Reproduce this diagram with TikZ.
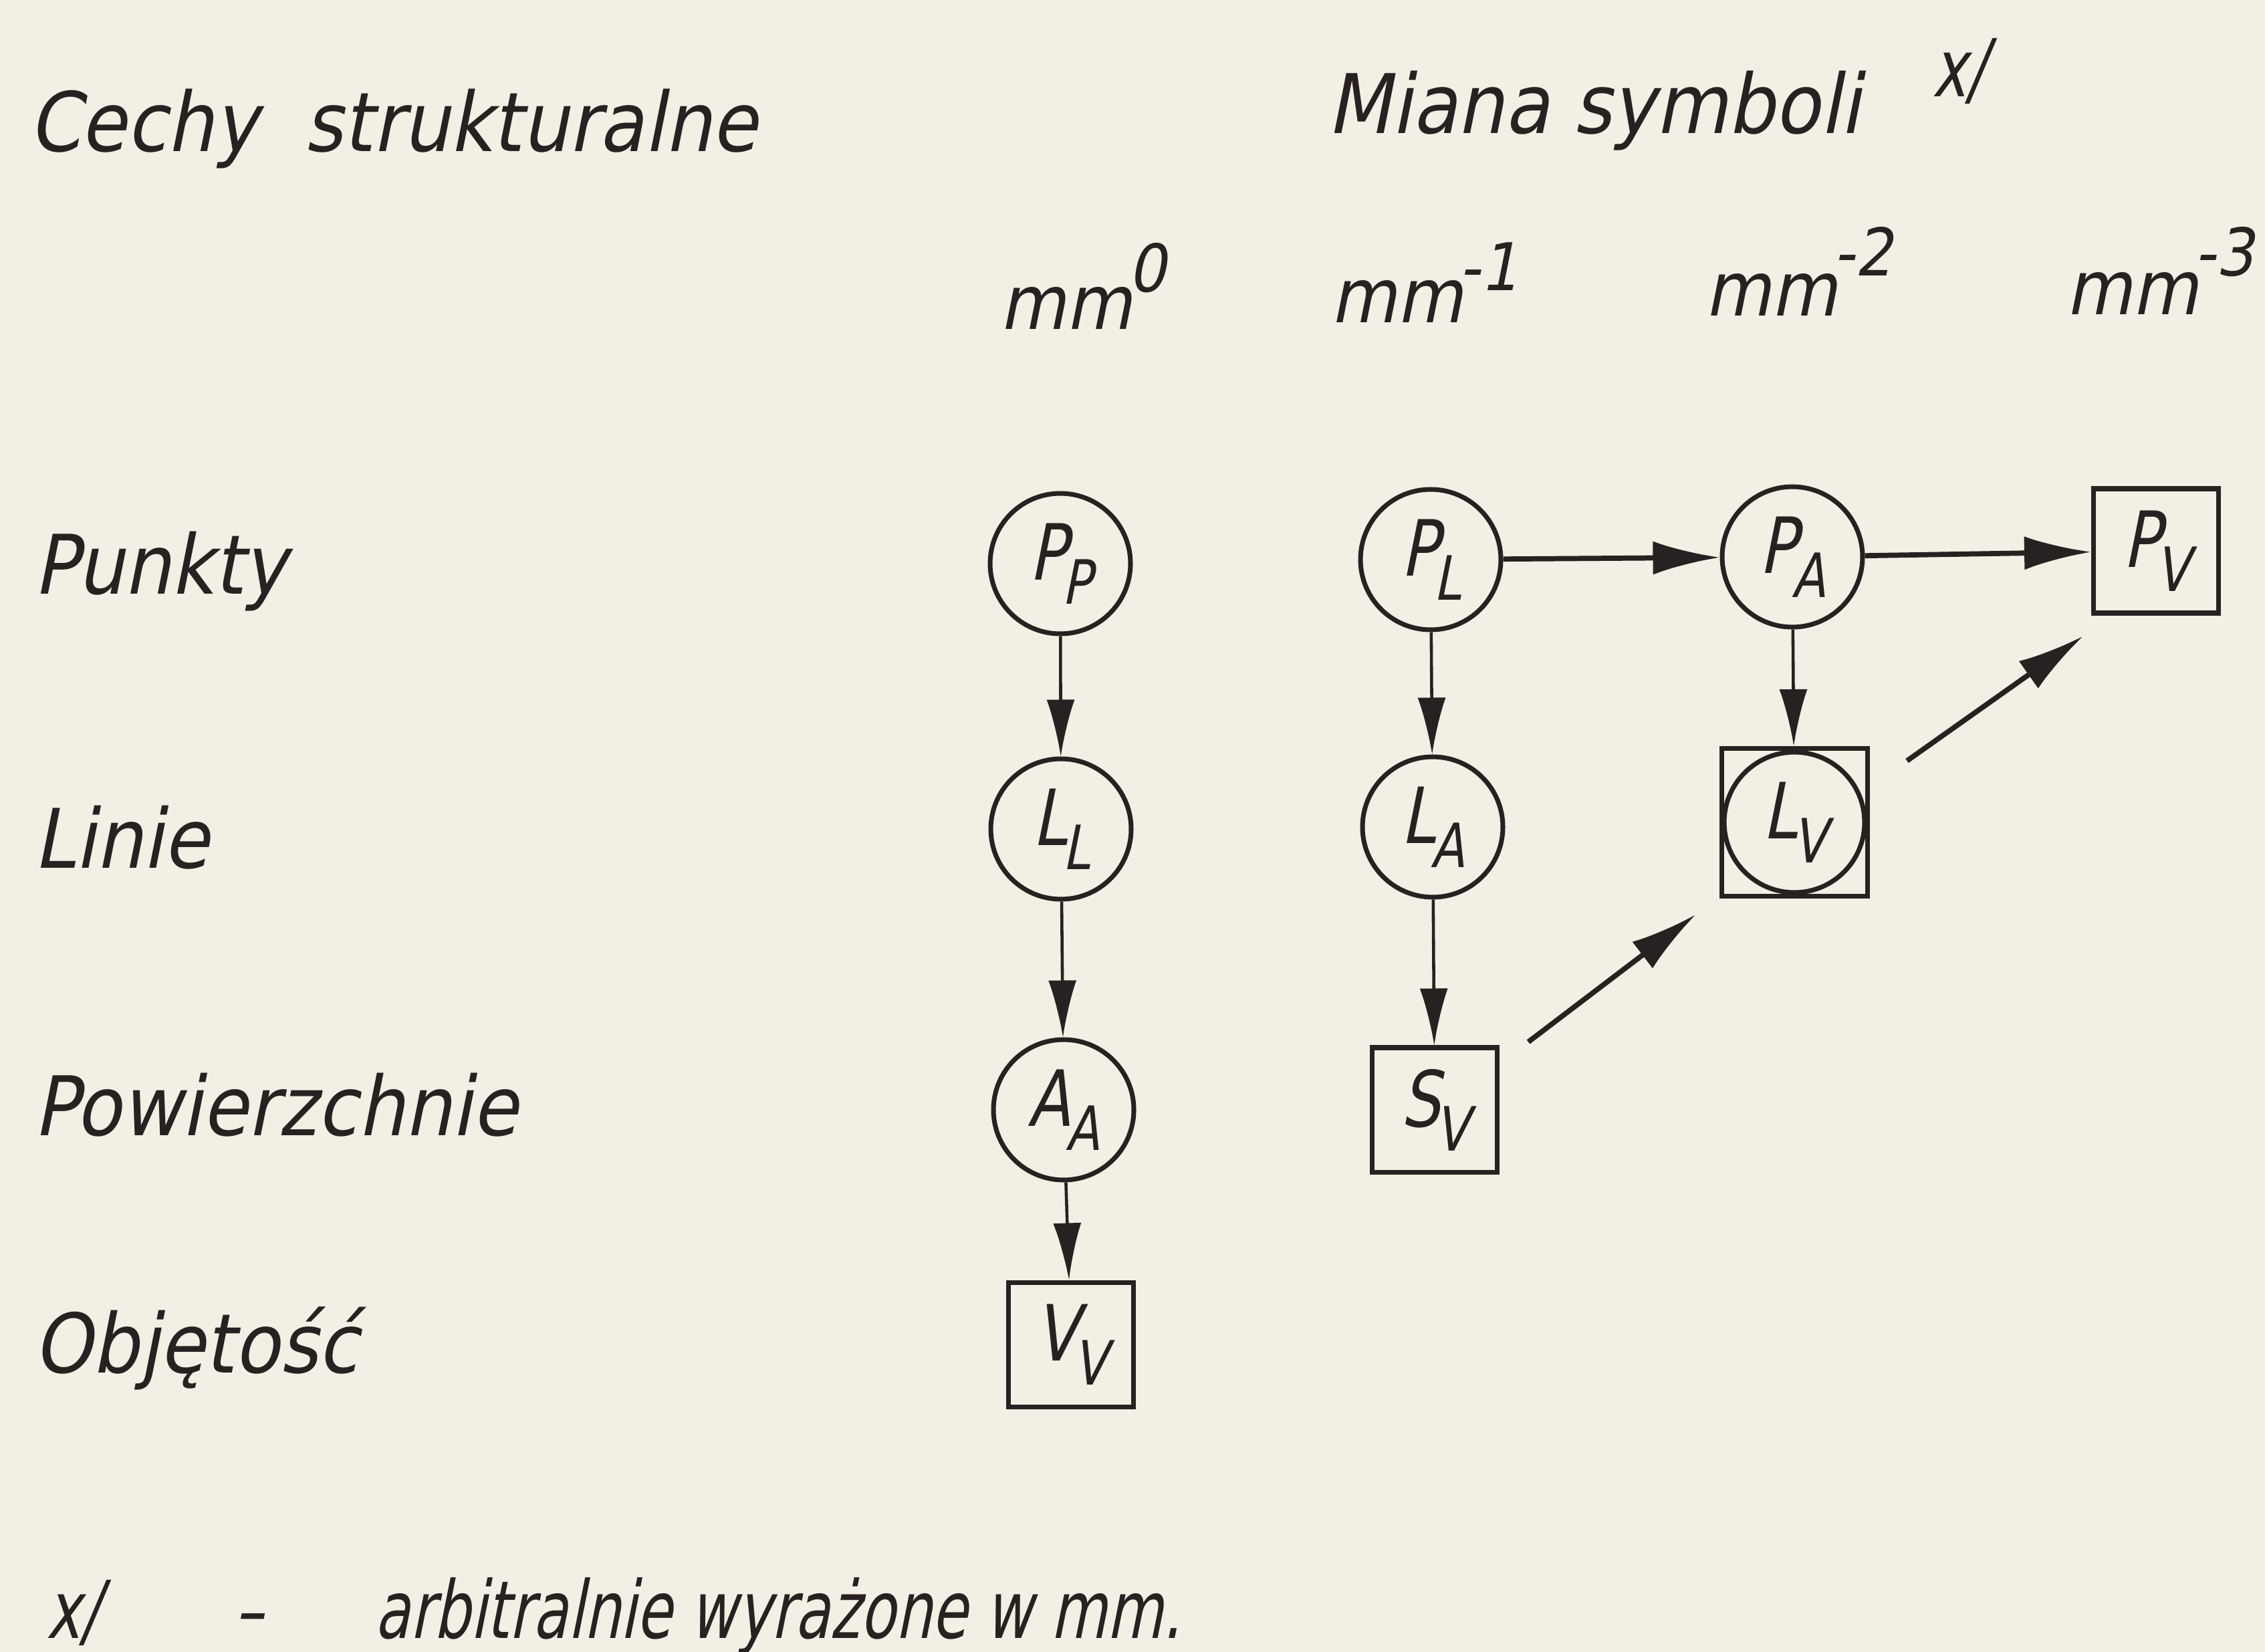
\documentclass[tikz,border=0pt]{standalone}
\usepackage{fontspec}
\usetikzlibrary{arrows.meta}
\newfontfamily\lett{DejaVu Sans}[FakeStretch=0.9,FakeSlant=0.2]
\newfontfamily\lettn{DejaVu Sans}[FakeStretch=0.72,FakeSlant=0.2]
\newfontfamily\symf{DejaVu Sans}[FakeStretch=0.8,FakeSlant=0.2]
\definecolor{paper}{RGB}{242,239,228}
\definecolor{ink}{RGB}{40,33,33}
% symbol with a lowered index
\newcommand{\sym}[2]{#1\kern-0.06em\raisebox{-0.36cm}{\fontsize{26}{26}\selectfont #2}}
\newcommand{\unitmm}[2]{mm\kern-0.05em\raisebox{#1}{\fontsize{28}{28}\selectfont #2}}

\begin{document}
\begin{tikzpicture}[x=1cm,y=-1cm,color=ink,
    lbl/.style={anchor=base west,inner sep=0pt,font=\lett\fontsize{35}{40}\selectfont},
    note/.style={anchor=base west,inner sep=0pt,font=\lettn\fontsize{34}{40}\selectfont},
    unit/.style={anchor=base west,inner sep=0pt,font=\lett\fontsize{32}{36}\selectfont},
    circ/.style={circle,draw,line width=2pt,minimum size=2.1cm,inner sep=0pt,font=\symf\fontsize{33}{33}\selectfont},
    sq/.style={rectangle,draw,line width=2pt,minimum width=1.87cm,minimum height=1.86cm,inner sep=0pt,font=\symf\fontsize{33}{33}\selectfont},
    sqbig/.style={rectangle,draw,line width=2pt,minimum width=2.18cm,minimum height=2.21cm,inner sep=0pt},
    arr/.style={-{Latex[length=0.85cm,width=0.42cm]},line width=1.3pt},
    harr/.style={-{Latex[length=1cm,width=0.5cm]},line width=2.2pt}]
  \fill[paper] (0,0) rectangle (33.88,24.71);
  \useasboundingbox (0,0) rectangle (33.88,24.71);

  % headings
  \node[lbl] (cechy) at (0.43,2.27) {Cechy\ \ strukturalne};
  \node[lbl] (miana) at (19.85,2.00) {Miana symboli};
  \node[note] (xs) at (28.90,1.45) {x/};
  \node[unit] (mm0) at (14.95,4.92) {\unitmm{0.55cm}{0}};
  \node[unit] (mm1) at (19.90,4.82) {\unitmm{0.48cm}{-1}};
  \node[unit] (mm2) at (25.50,4.73) {\unitmm{0.6cm}{-2}};
  \node[unit] (mm3) at (30.90,4.70) {\unitmm{0.58cm}{-3}};

  % rows
  \node[lbl] (punkty) at (0.50,8.88) {Punkty};
  \node[lbl] (linie) at (0.50,12.98) {Linie};
  \node[lbl] (pow) at (0.50,16.98) {Powierzchnie};
  \node[lbl] (obj) at (0.50,20.53) {Objętość};

  % symbols
  \node[circ] (PP) at (15.86,8.43) {\sym{P}{P}};
  \node[circ] (LL) at (15.87,12.40) {\sym{L}{L}};
  \node[circ] (AA) at (15.91,16.60) {\sym{A}{A}};
  \node[sq] (VV) at (16.02,20.11) {\sym{V}{V}};
  \node[circ] (PL) at (21.40,8.37) {\sym{P}{L}};
  \node[circ] (LA) at (21.43,12.37) {\sym{L}{A}};
  \node[sq] (SV) at (21.46,16.60) {\sym{S}{V}};
  \node[circ] (PA) at (26.81,8.33) {\sym{P}{A}};
  \node[circ] (LV) at (26.84,12.30) {\sym{L}{V}};
  \node[sqbig] (LVbox) at (LV) {};
  \node[sq] (PV) at (32.25,8.24) {\sym{P}{V}};

  \draw[arr] (PP) -- (LL);
  \draw[arr] (LL) -- (AA);
  \draw[arr] (AA) -- (VV);
  \draw[arr] (PL) -- (LA);
  \draw[arr] (LA) -- (SV);
  \draw[arr] (PA) -- (LVbox);
  \draw[harr] (PL) -- (PA);
  \draw[harr] (PA) -- (PV);
  \draw[harr] ([shift={(0.43,-0.05)}]SV.north east) -- ([shift={(-0.35,0.24)}]LVbox.south west);
  \draw[harr] ([shift={(0.56,0.22)}]LVbox.north east) -- ([shift={(-0.12,0.31)}]PV.south west);

  % footnote
  \node[note] (fx) at (0.69,24.50) {x/};
  \node[note] (fdash) at (3.50,24.50) {–};
  \node[note] (ftext) at (5.60,24.50) {arbitralnie wyrażone w mm.};
\end{tikzpicture}
\end{document}
